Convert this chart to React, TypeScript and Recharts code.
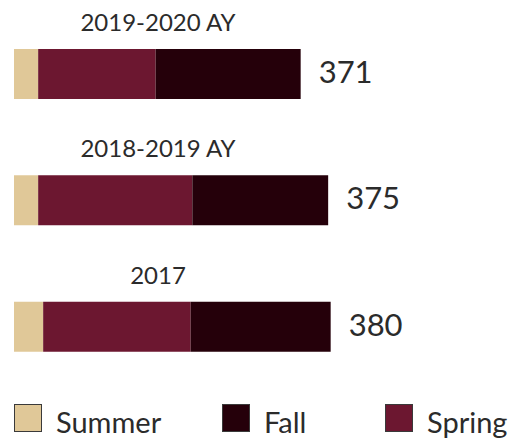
import React from 'react';
import { BarChart, Bar, XAxis, YAxis, LabelList } from 'recharts';

const categories = ['2019-2020 AY', '2018-2019 AY', '2017'];
const summerValues = [29, 29, 35];
const springValues = [141, 185, 177];
const fallValues = [174, 163, 168];
const totals = [371, 375, 380];

const seriesNames = ['Summer', 'Fall', 'Spring'];
const seriesColors: Record<string, string> = {
  Summer: '#E0C898',
  Spring: '#6C1730',
  Fall: '#25000A',
};

const data = categories.map((name, i) => ({
  name,
  Summer: summerValues[i],
  Spring: springValues[i],
  Fall: fallValues[i],
  total: totals[i],
}));

const FONT = 'Lato, "Open Sans", sans-serif';
const TEXT = '#2b2b2b';

const CategoryLabel = (props: any) => {
  const { x, y, value } = props;
  return (
    <text
      x={x + 144}
      y={y - 18}
      textAnchor="middle"
      fontFamily={FONT}
      fontSize={24}
      fill={TEXT}
    >
      {value}
    </text>
  );
};

const TotalLabel = (props: any) => {
  const { x, y, width, height, value } = props;
  return (
    <text
      x={x + width + 18}
      y={y + height / 2 + 9}
      fontFamily={FONT}
      fontSize={31}
      fill={TEXT}
    >
      {value}
    </text>
  );
};

const legendX = [14, 222, 385];

export default function App() {
  return (
    <div style={{ position: 'absolute', left: 0, top: 0, width: 515, height: 444, background: '#fff' }}>
      <BarChart
        layout="vertical"
        width={515}
        height={444}
        data={data}
        margin={{ top: 11, right: 1, bottom: 54, left: 14 }}
        barSize={50}
      >
        <XAxis type="number" domain={[0, 600]} hide />
        <YAxis type="category" dataKey="name" hide />
        <Bar dataKey="Summer" stackId="a" fill={seriesColors.Summer} isAnimationActive={false}>
          <LabelList dataKey="name" content={<CategoryLabel />} />
        </Bar>
        <Bar dataKey="Spring" stackId="a" fill={seriesColors.Spring} isAnimationActive={false} />
        <Bar dataKey="Fall" stackId="a" fill={seriesColors.Fall} isAnimationActive={false}>
          <LabelList dataKey="total" content={<TotalLabel />} />
        </Bar>
      </BarChart>
      {seriesNames.map((name, i) => (
        <div
          key={name}
          style={{
            position: 'absolute',
            left: legendX[i],
            top: 404,
            display: 'flex',
            alignItems: 'center',
            fontFamily: FONT,
            fontSize: 29,
            color: TEXT,
            lineHeight: '28px',
            whiteSpace: 'nowrap',
          }}
        >
          <span
            style={{
              display: 'inline-block',
              width: 26,
              height: 26,
              background: seriesColors[name],
              border: '1px solid #3a3a3a',
              marginRight: 14,
            }}
          />
          <span style={{ position: 'relative', top: 4 }}>{name}</span>
        </div>
      ))}
    </div>
  );
}
